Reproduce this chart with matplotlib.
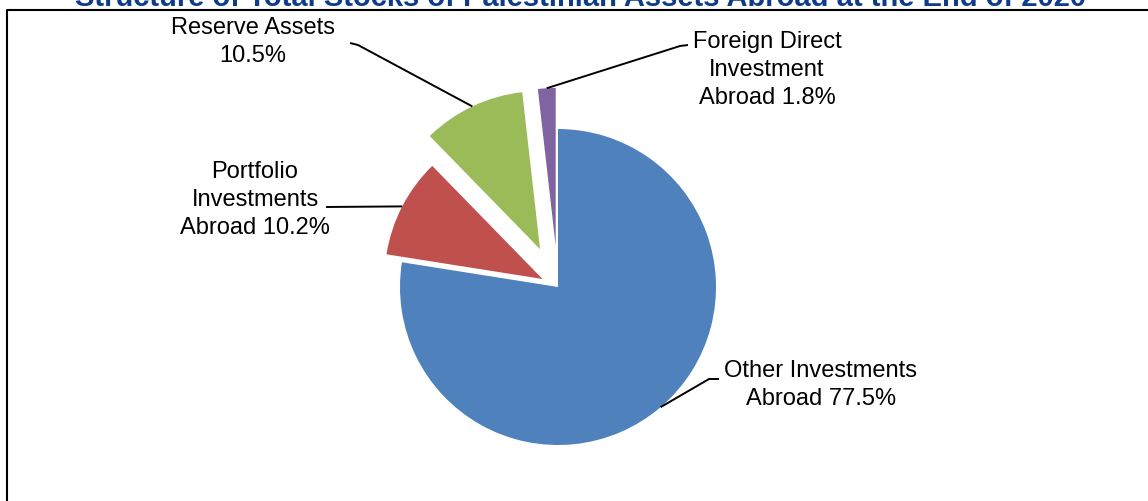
import numpy as np
import matplotlib.pyplot as plt
from matplotlib.lines import Line2D

plt.rcParams['font.family'] = ['Liberation Sans', 'DejaVu Sans']

# shares of total stocks of assets abroad (%)
categories = ["Other Investments", "Portfolio Investments", "Reserve Assets",
              "Foreign Direct Investment"]
shares = [77.5, 10.2, 10.5, 1.8]
labels = ["Other Investments\nAbroad 77.5%", "Portfolio\nInvestments\nAbroad 10.2%",
          "Reserve Assets\n10.5%", "Foreign Direct\nInvestment\nAbroad 1.8%"]
colors = ["#4F81BD", "#C0504D", "#9BBB59", "#8064A2"]
explode = [0.0, 0.11, 0.265, 0.26]

W, H = 1148, 501
fig = plt.figure(figsize=(W / 100, H / 100), dpi=100)
ax = fig.add_axes([0, 0, 1, 1])

cx, cy, R = 558, H - 287, 158
# pie's explode is in data units, so scale by the radius
wedges, _ = ax.pie(shares, colors=colors, explode=[e * R for e in explode],
                   startangle=90, counterclock=False, center=(cx, cy), radius=R,
                   wedgeprops=dict(linewidth=0))
ax.set_xlim(0, W)
ax.set_ylim(0, H)
ax.axis('off')

# label text centre, elbow of leader line (pixels from top-left)
label_pos = [(821, 385), (255, 200), (253, 42), (767, 70)]
elbows = [[(719, 379), (709, 379)],
          [(326, 207)],
          [(350, 43), (358, 45)],
          [(688, 45), (680, 46)]]

for w, ex, lab, (lx, ly), elb in zip(wedges, explode, labels, label_pos, elbows):
    mid = np.deg2rad((w.theta1 + w.theta2) / 2)
    ox = cx + ex * R * np.cos(mid)
    oy = cy + ex * R * np.sin(mid)
    px = ox + R * np.cos(mid)
    py = oy + R * np.sin(mid)
    xs = [e[0] for e in elb] + [px]
    ys = [H - e[1] for e in elb] + [py]
    ax.plot(xs, ys, color='black', lw=1.4, solid_capstyle='butt')
    ax.text(lx, H - ly, lab, ha='center', va='center', fontsize=17,
            linespacing=1.37, color='black')

# chart frame (top and left edges)
fig.add_artist(Line2D([7 / W, 7 / W, 1.0], [0, 1 - 10 / H, 1 - 10 / H],
                      color='black', lw=1.5, transform=fig.transFigure))

fig.text(581 / W, 1 - 6 / H,
         "Structure of Total Stocks of Palestinian Assets Abroad at the End of 2020",
         ha='center', va='baseline', fontsize=21, fontweight='bold',
         color='#0E3C8A')

fig.savefig('out.png', dpi=100)
